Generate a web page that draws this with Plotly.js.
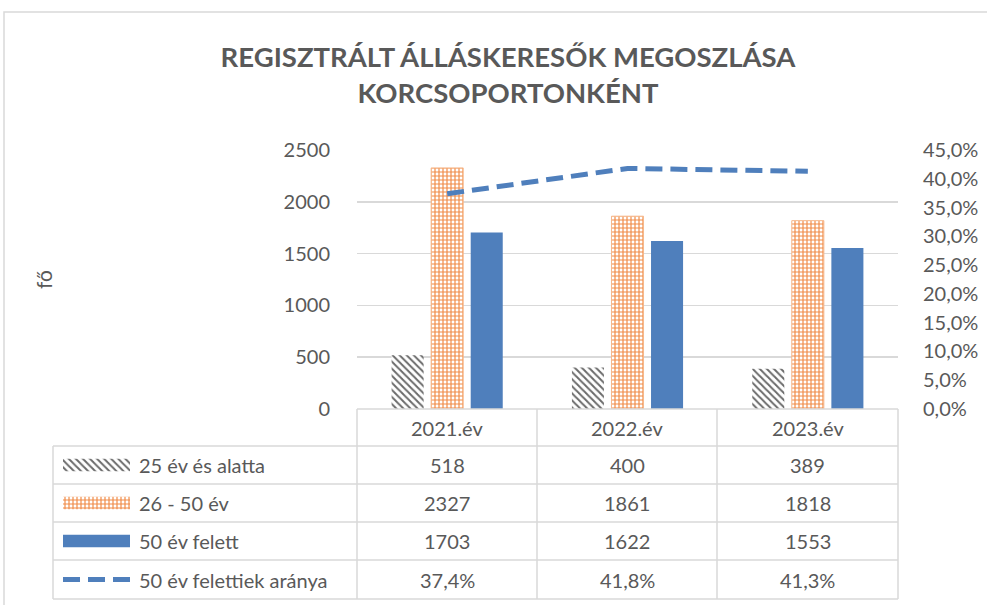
<!DOCTYPE html>
<html>
<head>
<meta charset="utf-8">
<script src="https://cdn.plot.ly/plotly-3.0.1.min.js"></script>
<style>html,body{margin:0;padding:0;background:#fff;}#chart{width:987px;height:605px;}</style>
</head>
<body>
<div id="chart"></div>
<script>
const categories = ['2021.év', '2022.év', '2023.év'];
const seriesNames = ['25 év és alatta', '26 - 50 év', '50 év felett', '50 év felettiek aránya'];
const under25 = [518, 400, 389];
const age26to50 = [2327, 1861, 1818];
const over50 = [1703, 1622, 1553];
const over50Share = [0.374, 0.418, 0.413];
const leftTicks = [0, 500, 1000, 1500, 2000, 2500];

const W = 987, H = 605;
const px = x => x / W;
const py = y => 1 - y / H;
const TXT = '#595959';
const FONT = 'Lato, "Open Sans", sans-serif';
const BLUE = '#4F7FBC';
const GRID = '#d9d9d9';

const patterns = [
  {shape: '\\', fgcolor: '#6b6b6b', bgcolor: '#ffffff', size: 5, solidity: 0.4, fillmode: 'replace'},
  {shape: '+', fgcolor: '#F08A45', bgcolor: '#ffffff', size: 4, solidity: 0.5, fillmode: 'replace'},
  null
];

const barSeries = [under25, age26to50, over50];
const traces = [];
barSeries.forEach((vals, i) => {
  const marker = {color: i === 2 ? BLUE : '#ffffff', line: {width: 0}};
  if (patterns[i]) marker.pattern = patterns[i];
  if (i === 1) marker.line = {color: '#F6B88C', width: 1};
  traces.push({type: 'bar', name: seriesNames[i], x: categories, y: vals, marker: marker,
    xaxis: 'x', yaxis: 'y', hoverinfo: 'skip', showlegend: false});
});
traces.push({type: 'scatter', mode: 'lines', name: seriesNames[3], x: categories, y: over50Share,
  xaxis: 'x', yaxis: 'y2', line: {color: BLUE, width: 5, dash: '17px,8px'}, hoverinfo: 'skip', showlegend: false});

// legend keys in the data table (extra axes)
barSeries.forEach((vals, i) => {
  const marker = {color: i === 2 ? BLUE : '#ffffff', line: {width: 0}};
  if (patterns[i]) marker.pattern = patterns[i];
  traces.push({type: 'bar', orientation: 'h', x: [1], y: [i], base: 0, width: 0.33, offset: -0.165,
    marker: marker, xaxis: 'x3', yaxis: 'y3', hoverinfo: 'skip', showlegend: false});
});

// table geometry
const tableLeft = 53, plotLeft = 357, plotRight = 898;
const colEdges = [357, 537, 717, 898];
const rowEdges = [409, 446, 484, 522, 560, 599];
const lineStyle = {color: GRID, width: 1.5};
const shapes = [];
shapes.push({type: 'rect', xref: 'paper', yref: 'paper', x0: px(4), y0: py(12), x1: px(1010), y1: py(640), line: {color: GRID, width: 1.5}});
shapes.push({type: 'line', xref: 'paper', yref: 'paper', x0: px(plotLeft), x1: px(plotRight), y0: py(rowEdges[0]), y1: py(rowEdges[0]), line: lineStyle});
for (let r = 1; r < rowEdges.length; r++) {
  shapes.push({type: 'line', xref: 'paper', yref: 'paper', x0: px(tableLeft), x1: px(plotRight), y0: py(rowEdges[r]), y1: py(rowEdges[r]), line: lineStyle});
}
shapes.push({type: 'line', xref: 'paper', yref: 'paper', x0: px(tableLeft), x1: px(tableLeft), y0: py(rowEdges[1]), y1: py(rowEdges[5]), line: lineStyle});
colEdges.forEach(cx => shapes.push({type: 'line', xref: 'paper', yref: 'paper', x0: px(cx), x1: px(cx), y0: py(rowEdges[0]), y1: py(rowEdges[5]), line: lineStyle}));
// dashed line key
const keyY = (rowEdges[4] + rowEdges[5]) / 2;
shapes.push({type: 'line', xref: 'paper', yref: 'paper', x0: px(63), x1: px(130), y0: py(keyY), y1: py(keyY), line: {color: BLUE, width: 5, dash: '17px,8px'}});

const annotations = [];
const cellFont = {family: FONT, size: 20, color: TXT};
categories.forEach((c, j) => {
  const cx = (colEdges[j] + colEdges[j + 1]) / 2;
  annotations.push({xref: 'paper', yref: 'paper', x: px(cx), y: py((rowEdges[0] + rowEdges[1]) / 2), text: c, showarrow: false, font: cellFont, xanchor: 'center', yanchor: 'middle'});
  const colVals = [String(under25[j]), String(age26to50[j]), String(over50[j]), (over50Share[j] * 100).toFixed(1).replace('.', ',') + '%'];
  colVals.forEach((t, r) => {
    annotations.push({xref: 'paper', yref: 'paper', x: px(cx), y: py((rowEdges[r + 1] + rowEdges[r + 2]) / 2), text: t, showarrow: false, font: cellFont, xanchor: 'center', yanchor: 'middle'});
  });
});
seriesNames.forEach((n, r) => {
  annotations.push({xref: 'paper', yref: 'paper', x: px(137), y: py((rowEdges[r + 1] + rowEdges[r + 2]) / 2), text: n, showarrow: false, font: cellFont, xanchor: 'left', yanchor: 'middle'});
});

const layout = {
  width: W, height: H,
  margin: {l: 0, r: 0, t: 0, b: 0},
  paper_bgcolor: '#ffffff', plot_bgcolor: '#ffffff',
  separators: ', ',
  font: {family: FONT, color: TXT, size: 20},
  title: {text: 'REGISZTRÁLT ÁLLÁSKERESŐK MEGOSZLÁSA<br>KORCSOPORTONKÉNT', font: {family: FONT, size: 27.5, color: TXT, weight: 'bold'},
    xref: 'container', yref: 'container', x: px(508), xanchor: 'center', y: py(67), yanchor: 'top'},
  barmode: 'group', bargap: 0.342, bargroupgap: 0.19,
  showlegend: false,
  xaxis: {domain: [px(plotLeft), px(plotRight)], range: [-0.5, 2.5], type: 'category', showticklabels: false, showgrid: false, zeroline: false, showline: false, ticks: '', fixedrange: true},
  yaxis: {domain: [py(409), py(150)], range: [0, 2500], tickvals: leftTicks, showgrid: true, gridcolor: GRID, gridwidth: 1.5, zeroline: false, showline: false,
    ticks: 'outside', ticklen: 22, tickcolor: 'rgba(0,0,0,0)', tickfont: {family: FONT, size: 20, color: TXT},
    title: {text: 'fő', font: {family: FONT, size: 21, color: TXT}, standoff: 225}, automargin: false},
  yaxis2: {overlaying: 'y', side: 'right', anchor: 'x', range: [0, 0.45], dtick: 0.05, tick0: 0, tickformat: '.1%', showgrid: false, zeroline: false, showline: false,
    ticks: 'outside', ticklen: 20, tickcolor: 'rgba(0,0,0,0)', tickfont: {family: FONT, size: 20, color: TXT}, automargin: false},
  xaxis3: {domain: [px(63), px(130)], range: [0, 1], visible: false, fixedrange: true, anchor: 'y3'},
  yaxis3: {domain: [py(rowEdges[4]), py(rowEdges[1])], range: [2.5, -0.5], visible: false, fixedrange: true, anchor: 'x3'},
  shapes: shapes,
  annotations: annotations
};

Plotly.newPlot('chart', traces, layout, {displayModeBar: false, staticPlot: true});
</script>
</body>
</html>
